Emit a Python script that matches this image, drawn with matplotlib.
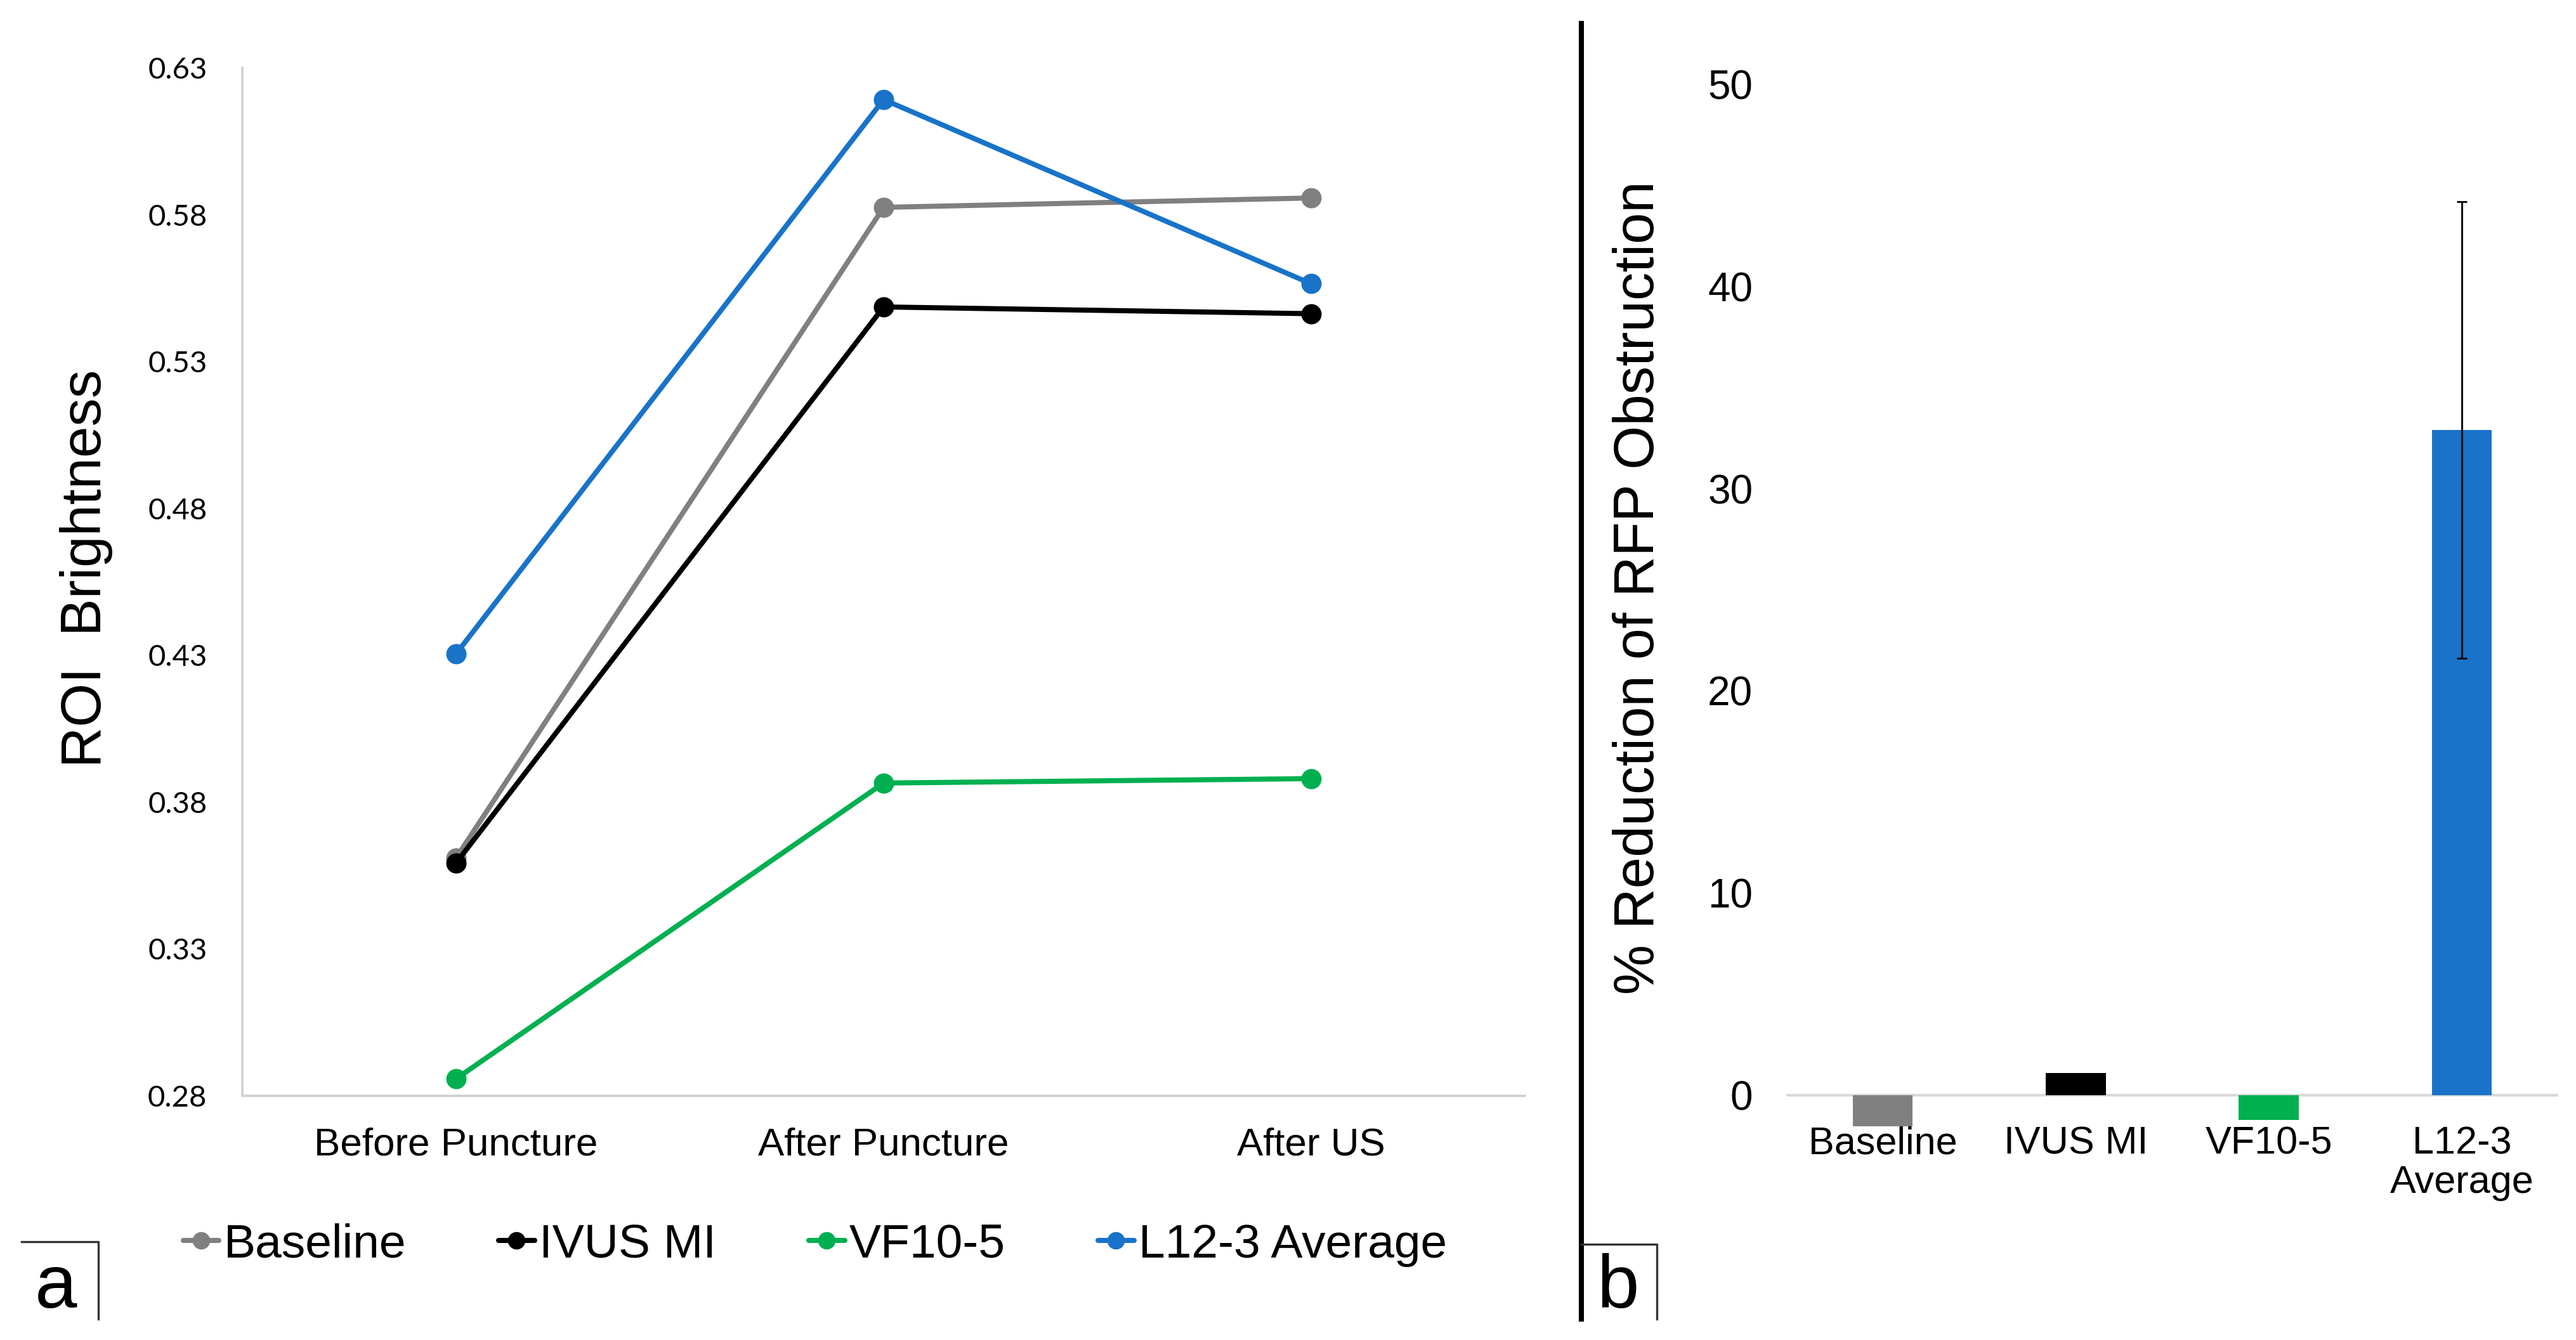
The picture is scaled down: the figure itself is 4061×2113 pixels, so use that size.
import matplotlib
matplotlib.use("Agg")
import matplotlib.pyplot as plt
from matplotlib.lines import Line2D

plt.rcParams["font.family"] = ["Liberation Sans", "DejaVu Sans"]

# panel a: ROI brightness over the three stages
stages = ["Before Puncture", "After Puncture", "After US"]
baseline_vals = [0.361, 0.5825, 0.5857]
ivus_vals = [0.3593, 0.5486, 0.5463]
vf_vals = [0.2858, 0.3865, 0.388]
l12_vals = [0.4305, 0.6192, 0.5565]
series_names = ["Baseline", "IVUS MI", "VF10-5", "L12-3 Average"]
y_ticks_a = [0.28, 0.33, 0.38, 0.43, 0.48, 0.53, 0.58, 0.63]

# panel b: % reduction of RFP obstruction
bar_labels = ["Baseline", "IVUS MI", "VF10-5", "L12-3\nAverage"]
bar_vals = [-1.53, 1.1, -1.23, 32.9]
bar_err = [0, 0, 0, 11.3]
y_ticks_b = [0, 10, 20, 30, 40, 50]

colors = ["#808080", "#000000", "#00B050", "#1873C9"]

W, H = 4061, 2113
fig = plt.figure(figsize=(W / 200, H / 200), dpi=200)


def fx(px):
    return px / W


def fy(py):
    return 1 - py / H


# ---- panel a ----
ax1 = fig.add_axes([fx(382), fy(1728), fx(2404) - fx(382), fy(107) - fy(1728)])
xs = list(range(len(stages)))
for vals, name, c in zip([baseline_vals, ivus_vals, vf_vals, l12_vals], series_names, colors):
    ax1.plot(xs, vals, color=c, lw=2.9, marker="o", ms=10.5, label=name,
             solid_capstyle="round")
ax1.set_xlim(-0.5, 2.5)
ax1.set_ylim(0.28, 0.63)
ax1.set_yticks(y_ticks_a)
ax1.set_yticklabels(["{:.2f}".format(t) for t in y_ticks_a], family="Lato", fontsize=17)
ax1.set_xticks(xs)
ax1.set_xticklabels(stages, fontsize=22.3)
ax1.tick_params(axis="y", length=0, pad=20)
ax1.tick_params(axis="x", length=0, pad=18)
for s in ["top", "right"]:
    ax1.spines[s].set_visible(False)
for s in ["left", "bottom"]:
    ax1.spines[s].set_color("#CFCFCF")
    ax1.spines[s].set_linewidth(1.3)

fig.text(fx(136), fy(896), "ROI  Brightness", rotation=90, ha="center", va="center",
         fontsize=32)

handles, labels = ax1.get_legend_handles_labels()
fig.legend(handles, labels, loc="center", bbox_to_anchor=(fx(1285), fy(1963)), ncol=4,
           frameon=False, fontsize=27, handlelength=0.75, handletextpad=0.1,
           columnspacing=1.95, markerscale=0.85)

# ---- panel b ----
ax2 = fig.add_axes([fx(2816), fy(1778), fx(4033) - fx(2816), fy(133) - fy(1778)])
bx = list(range(len(bar_labels)))
ax2.bar(bx, bar_vals, width=0.31, color=colors, zorder=2)
ax2.errorbar(bx[3], bar_vals[3], yerr=bar_err[3], fmt="none", ecolor="#111111",
             elinewidth=1.1, capsize=3, capthick=1.1, zorder=3)
ax2.axhline(0, color="#D9D9D9", lw=1.5, zorder=1)
ax2.set_xlim(-0.5, 3.5)
ax2.set_ylim(-1.6, 50)
ax2.set_yticks(y_ticks_b)
ax2.set_yticklabels([str(t) for t in y_ticks_b], fontsize=23)
ax2.set_xticks(bx)
ax2.set_xticklabels(bar_labels, fontsize=22, linespacing=1.1)
ax2.tick_params(axis="y", length=0, pad=19)
ax2.tick_params(axis="x", length=0, pad=-1)
for s in ax2.spines.values():
    s.set_visible(False)

fig.text(fx(2584), fy(927), "% Reduction of RFP Obstruction", rotation=90, ha="center",
         va="center", fontsize=32)

# ---- divider and panel letters ----
fig.add_artist(Line2D([fx(2493), fx(2493)], [fy(37), fy(2080)], color="black", lw=2.9))
fig.add_artist(Line2D([fx(34), fx(155), fx(155)], [fy(1958), fy(1958), fy(2080)],
                      color="#333333", lw=1.2))
fig.add_artist(Line2D([fx(2493), fx(2612), fx(2612)], [fy(1962), fy(1962), fy(2080)],
                      color="#333333", lw=1.2))
fig.text(fx(88), fy(2062), "a", ha="center", va="baseline", fontsize=43)
fig.text(fx(2551), fy(2062), "b", ha="center", va="baseline", fontsize=43)

fig.savefig("out.png", dpi=200, facecolor="white")
